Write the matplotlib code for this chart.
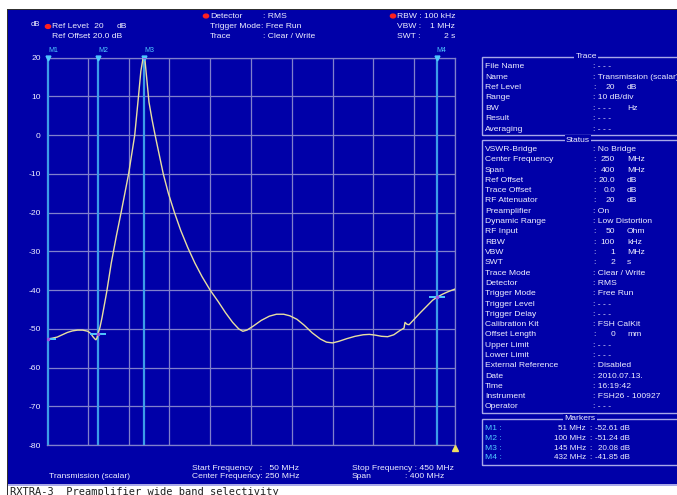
import matplotlib
matplotlib.use("Agg")
import matplotlib.pyplot as plt
from matplotlib.patches import Rectangle
import numpy as np

# ---- trace data (frequency in MHz, level in dB) ----
freq_mhz = [50, 55, 60, 65, 70, 75, 80, 85, 90, 93, 95, 97, 98, 99, 100,
            102, 104, 108.5, 113, 118, 123, 130, 136, 139.5, 142, 144, 145,
            146, 148, 150, 153, 156, 160, 164, 169, 175, 181, 188, 195, 202,
            210, 218, 225, 232, 238, 242, 246, 252, 260, 268, 275, 282, 288,
            295, 302, 310, 318, 324, 330, 336, 344, 352, 360, 366, 372, 378,
            384, 390, 396, 400, 401, 403, 405, 410, 416, 422, 428, 432, 438,
            444, 450]
level_db = [-52.6, -52.4, -52.1, -51.5, -50.9, -50.5, -50.3, -50.3, -50.6,
            -51.2, -52.0, -52.6, -52.8, -52.3, -51.24, -49.5, -47.0, -40.5,
            -33.0, -26.0, -19.5, -10.0, 0.0, 9.5, 16.5, 19.6, 20.08, 19.5,
            14.0, 8.5, 4.0, 0.0, -5.0, -10.0, -15.0, -20.0, -24.5, -29.0,
            -33.0, -36.5, -40.0, -43.0, -45.8, -48.3, -50.0, -50.6, -50.3,
            -49.3, -47.8, -46.7, -46.2, -46.2, -46.6, -47.5, -49.0, -51.0,
            -52.6, -53.4, -53.6, -53.2, -52.5, -51.9, -51.5, -51.4, -51.6,
            -51.9, -52.0, -51.5, -50.4, -49.8, -48.3, -48.8, -48.9, -47.5,
            -45.8, -44.2, -42.6, -41.85, -41.0, -40.3, -39.7]

# ---- markers ----
marker_names = ["M1", "M2", "M3", "M4"]
marker_freq = [51, 100, 145, 432]
marker_level = [-52.61, -51.24, 20.08, -41.85]

# ---- axis scale ----
x_start, x_stop, x_div = 50, 450, 40
y_ref, y_bottom, y_div = 20, -80, 10

# ---- side panel texts ----
trace_rows = [("File Name", ": - - -", None),
              ("Name", ": Transmission (scalar)", None),
              ("Ref Level", "20", "dB"),
              ("Range", ": 10 dB/div", None),
              ("BW", ": - - -", "Hz"),
              ("Result", ": - - -", None),
              ("Averaging", ": - - -", None)]
status_rows = [("VSWR-Bridge", ": No Bridge", None),
               ("Center Frequency", "250", "MHz"),
               ("Span", "400", "MHz"),
               ("Ref Offset", "20.0", "dB"),
               ("Trace Offset", "0.0", "dB"),
               ("RF Attenuator", "20", "dB"),
               ("Preamplifier", ": On", None),
               ("Dynamic Range", ": Low Distortion", None),
               ("RF Input", "50", "Ohm"),
               ("RBW", "100", "kHz"),
               ("VBW", "1", "MHz"),
               ("SWT", "2", "s"),
               ("Trace Mode", ": Clear / Write", None),
               ("Detector", ": RMS", None),
               ("Trigger Mode", ": Free Run", None),
               ("Trigger Level", ": - - -", None),
               ("Trigger Delay", ": - - -", None),
               ("Calibration Kit", ": FSH CalKit", None),
               ("Offset Length", "0", "mm"),
               ("Upper Limit", ": - - -", None),
               ("Lower Limit", ": - - -", None),
               ("External Reference", ": Disabled", None),
               ("Date", ": 2010.07.13.", None),
               ("Time", ": 16:19:42", None),
               ("Instrument", ": FSH26 - 100927", None),
               ("Operator", ": - - -", None)]

BG = "#0000a8"
GRID = "#8080cc"
FRAME = "#a8a8e8"
TXT = "#f0f0ff"
MK = "#3c9ce8"
MKTXT = "#50c8ff"
TRACE = "#e8dfa0"
FONT = "Liberation Sans"
FS = 6.1

W, H = 677, 495
fig = plt.figure(figsize=(W / 100, H / 100), dpi=100)
fig.patch.set_facecolor(BG)


def fx(x):
    return x / W


def fy(y):
    return 1 - y / H


def put(x, y, s, ha="left", color=TXT, size=FS, **kw):
    fig.text(fx(x), fy(y), s, ha=ha, va="center", color=color,
             fontsize=size, family=FONT, **kw)


def rect(x0, y0, x1, y1, **kw):
    fig.add_artist(Rectangle((fx(x0), fy(y1)), fx(x1) - fx(x0),
                             fy(y0) - fy(y1), transform=fig.transFigure, **kw))


# screen frame: white margins with dark edge
rect(0, 0, W, 9, facecolor="white", edgecolor="none")
rect(0, 0, 7, H, facecolor="white", edgecolor="none")
rect(7, 9, W, 10, facecolor="#303030", edgecolor="none")
rect(7, 9, 8, H, facecolor="#303030", edgecolor="none")
rect(8, 484, W, 485.5, facecolor=FRAME, edgecolor="none")
rect(8, 485.5, W, H, facecolor="white", edgecolor="none")
fig.text(fx(10), fy(487), "RXTRA-3  Preamplifier wide band selectivity",
         ha="left", va="top", color="#202020", fontsize=7.5,
         family="DejaVu Sans Mono")

# ---- plot area ----
px0, px1, py0, py1 = 47, 455, 57.7, 445.2
ax = fig.add_axes([fx(px0), fy(py1), fx(px1) - fx(px0), fy(py0) - fy(py1)])
ax.set_facecolor(BG)
ax.set_xlim(x_start, x_stop)
ax.set_ylim(y_bottom, y_ref)
ax.set_xticks(np.arange(x_start, x_stop + 1, x_div))
yt = np.arange(y_bottom, y_ref + 1, y_div)
ax.set_yticks(yt)
ax.set_yticklabels([str(v) for v in yt], color=TXT, fontsize=FS, family=FONT)
ax.tick_params(axis="both", length=0, pad=4.5)
ax.tick_params(axis="x", labelbottom=False)
ax.grid(True, color=GRID, linewidth=0.9)
for sp in ax.spines.values():
    sp.set_color(GRID)
    sp.set_linewidth(0.9)

# marker lines across the full height
for name, f in zip(marker_names, marker_freq):
    ax.axvline(f, color=MK, linewidth=1.6, zorder=3)
    ax.plot([f], [y_ref], marker="v", color=MKTXT, ms=3.5, clip_on=False,
            zorder=6)
    ax.annotate(name, (f, y_ref), xytext=(0, 5), textcoords="offset points",
                ha="left", va="center", color=MKTXT, fontsize=5, family=FONT,
                annotation_clip=False)

ax.plot(freq_mhz, level_db, color=TRACE, linewidth=1.0, zorder=4)

# marker positions on the trace
for f, l in zip(marker_freq, marker_level):
    ax.plot([f], [l], marker="_", color=MKTXT, ms=11, mew=1.4, zorder=5)
    ax.plot([f], [l], marker="o", color="#a050e0", ms=1.6, zorder=6)

# reference level indicator at the stop frequency
ax.plot([x_stop], [y_bottom - 0.8], marker="^", color="#f0e060", ms=4.5,
        clip_on=False, zorder=6)

# ---- header ----
put(31, 25, "dB", size=5.5)
for (dx, dy) in [(48, 26.5), (206, 16), (393, 16)]:
    fig.add_artist(plt.Circle((fx(dx), fy(dy)), 2.6 / W, color="#ff2020",
                              transform=fig.transFigure))
put(52, 26.5, "Ref Level")
put(87, 26.5, ":  20")
put(117, 26.5, "dB")
put(52, 36.7, "Ref Offset")
put(88, 36.7, ": 20.0 dB")
put(210, 16, "Detector")
put(210, 26.5, "Trigger Mode")
put(210, 37, "Trace")
put(263, 16, ": RMS")
put(261, 26.5, ": Free Run")
put(263, 37, ": Clear / Write")
put(397, 16, "RBW :")
put(455, 16, "100 kHz", ha="right")
put(397, 26.5, "VBW :")
put(455, 26.5, "1 MHz", ha="right")
put(397, 37, "SWT :")
put(455, 37, "2 s", ha="right")

# ---- bottom info ----
put(90, 477, "Transmission (scalar)", ha="center")
put(192, 468, "Start Frequency   :   %d MHz" % x_start)
put(192, 477, "Center Frequency: %d MHz" % ((x_start + x_stop) // 2))
put(352, 468, "Stop Frequency : %d MHz" % x_stop)
put(352, 477, "Span")
put(405, 477, ": %d MHz" % (x_stop - x_start))


# ---- side panel ----
def frame(y0, y1, title, tx):
    rect(482, y0, 690, y1, facecolor="none", edgecolor=FRAME, linewidth=1.0)
    fig.text(fx(tx), fy(y0), title, ha="center", va="center", color=TXT,
             fontsize=FS, family=FONT,
             bbox=dict(boxstyle="square,pad=0.15", facecolor=BG,
                       edgecolor="none"))


def rows(entries, y0, dy):
    for i, (lab, val, unit) in enumerate(entries):
        y = y0 + i * dy
        put(485, y, lab)
        if unit is None:
            put(593, y, val)
        else:
            if val.startswith(":"):
                put(593, y, val)
            else:
                put(593, y, ":")
                put(615, y, val, ha="right")
            put(627, y, unit)


frame(57, 135, "Trace", 586)
rows(trace_rows, 66.7, 10.4)
frame(140, 413, "Status", 578)
rows(status_rows, 149.5, 10.3)
frame(419, 465, "Markers", 580)
for i, (n, f, l) in enumerate(zip(marker_names, marker_freq, marker_level)):
    y = 429 + i * 9.6
    put(485, y, n + " :", color=MKTXT)
    put(586, y, "%d MHz" % f, ha="right", size=5.8)
    put(589, y, ":", size=5.8)
    put(630, y, "%.2f dB" % l, ha="right", size=5.8)

fig.savefig("out.png", dpi=100, facecolor=fig.get_facecolor())
